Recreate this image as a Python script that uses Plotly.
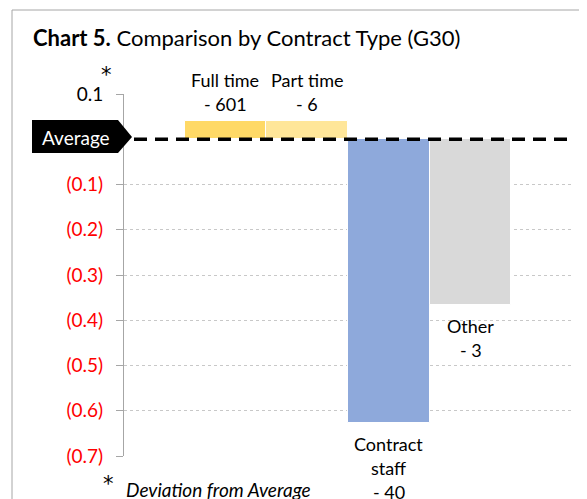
import plotly.graph_objects as go

categories = ["Full time", "Part time", "Contract staff", "Other"]
label_lines = [["Full time"], ["Part time"], ["Contract", "staff"], ["Other"]]
counts = [601, 6, 40, 3]
deviation = [0.04, 0.04, -0.626, -0.366]
bar_colors = ["#FFD966", "#FFE699", "#8EA9DB", "#D9D9D9"]

tick_vals = [0.1, -0.1, -0.2, -0.3, -0.4, -0.5, -0.6, -0.7]
tick_text = ['<span style="color:black">0.1</span>', "(0.1)", "(0.2)", "(0.3)", "(0.4)", "(0.5)", "(0.6)", "(0.7)"]

FONT = "Lato, 'Open Sans', sans-serif"
STAR_FONT = "'DejaVu Sans', sans-serif"
OFF = 8  # page body margin offset
W, H = 587 - OFF, 499 - OFF
# plot area in reference pixel coords
PX0, PX1, PY0, PY1 = 124, 574, 94, 456
L, T = PX0 - OFF, PY0 - OFF
R, B = 587 - PX1, 499 - PY1
PW, PH = PX1 - PX0, PY1 - PY0


def px(x):
    return (x - PX0) / PW


def py(y):
    return (PY1 - y) / PH


fig = go.Figure()
fig.add_trace(go.Bar(
    x=categories, y=deviation,
    marker=dict(color=bar_colors, line=dict(color="white", width=1)),
    width=1.0, hoverinfo="skip", showlegend=False,
))

annotations = []
for cat, lines, n, v in zip(categories, label_lines, counts, deviation):
    all_lines = lines + ["- %d" % n]
    if v >= 0:
        for i, t in enumerate(reversed(all_lines)):
            annotations.append(dict(x=cat, y=v, text=t, showarrow=False, yanchor="middle",
                                    yshift=17 + i * 24, font=dict(size=18, color="black", family=FONT)))
    else:
        for i, t in enumerate(all_lines):
            annotations.append(dict(x=cat, y=v, text=t, showarrow=False, yanchor="middle",
                                    yshift=-21 - i * 24, font=dict(size=18, color="black", family=FONT)))

# Average label text
annotations.append(dict(xref="paper", yref="paper", x=px(76), y=py(137), text="Average", showarrow=False,
                        xanchor="center", yanchor="middle", font=dict(size=19, color="white", family=FONT)))
# asterisk near top tick
annotations.append(dict(xref="paper", yref="paper", x=px(106), y=py(75), text="*", showarrow=False,
                        xanchor="center", yanchor="middle", font=dict(size=21, color="black", family=STAR_FONT)))
# footnote
annotations.append(dict(xref="paper", yref="paper", x=px(108), y=py(484), text="*", showarrow=False,
                        xanchor="center", yanchor="middle", font=dict(size=21, color="black", family=STAR_FONT)))
annotations.append(dict(xref="paper", yref="paper", x=px(124), y=py(489), text="<i>Deviation from Average</i>",
                        showarrow=False, xanchor="left", yanchor="middle",
                        font=dict(size=19, color="black", family=FONT)))

shapes = [
    # outer frame
    dict(type="rect", xref="paper", yref="paper", x0=px(12), x1=px(620), y0=py(540), y1=py(10),
         line=dict(color="#A6A6A6", width=1), fillcolor="rgba(0,0,0,0)", layer="below"),
    # dashed average line
    dict(type="line", xref="paper", yref="y", x0=px(134), x1=px(568), y0=0, y1=0,
         line=dict(color="black", width=3.5, dash="13px,8px")),
]
# Average arrow (pentagon)
path = "M {a},{t} L {b},{t} L {c},{m} L {b},{bo} L {a},{bo} Z".format(
    a=px(32), b=px(118), c=px(132), t=py(120), m=py(137), bo=py(153))
shapes.append(dict(type="path", xref="paper", yref="paper", path=path,
                   fillcolor="black", line=dict(color="black", width=0)))

fig.update_layout(
    width=W, height=H,
    margin=dict(l=L, r=R, t=T, b=B),
    paper_bgcolor="white", plot_bgcolor="white",
    bargap=0,
    title=dict(text="<b>Chart 5.</b> Comparison by Contract Type (G30)", x=(33 - OFF) / W, xanchor="left",
               xref="container", y=1 - (38 - OFF) / H, yanchor="middle", yref="container",
               font=dict(size=22, color="black", family=FONT)),
    xaxis=dict(range=[-1.242, 4.266], visible=False, fixedrange=True),
    yaxis=dict(range=[-0.7, 0.1], tickvals=tick_vals, ticktext=tick_text,
               tickfont=dict(size=19, color="#FF0000", family=FONT),
               ticks="outside", ticklen=7, tickcolor="#A6A6A6", ticklabelstandoff=9,
               showline=True, linecolor="#A6A6A6", linewidth=1,
               showgrid=True, gridcolor="#C8C8C8", griddash="dot", gridwidth=1,
               zeroline=False, fixedrange=True),
    annotations=annotations, shapes=shapes,
)

fig.write_html("out.html")
